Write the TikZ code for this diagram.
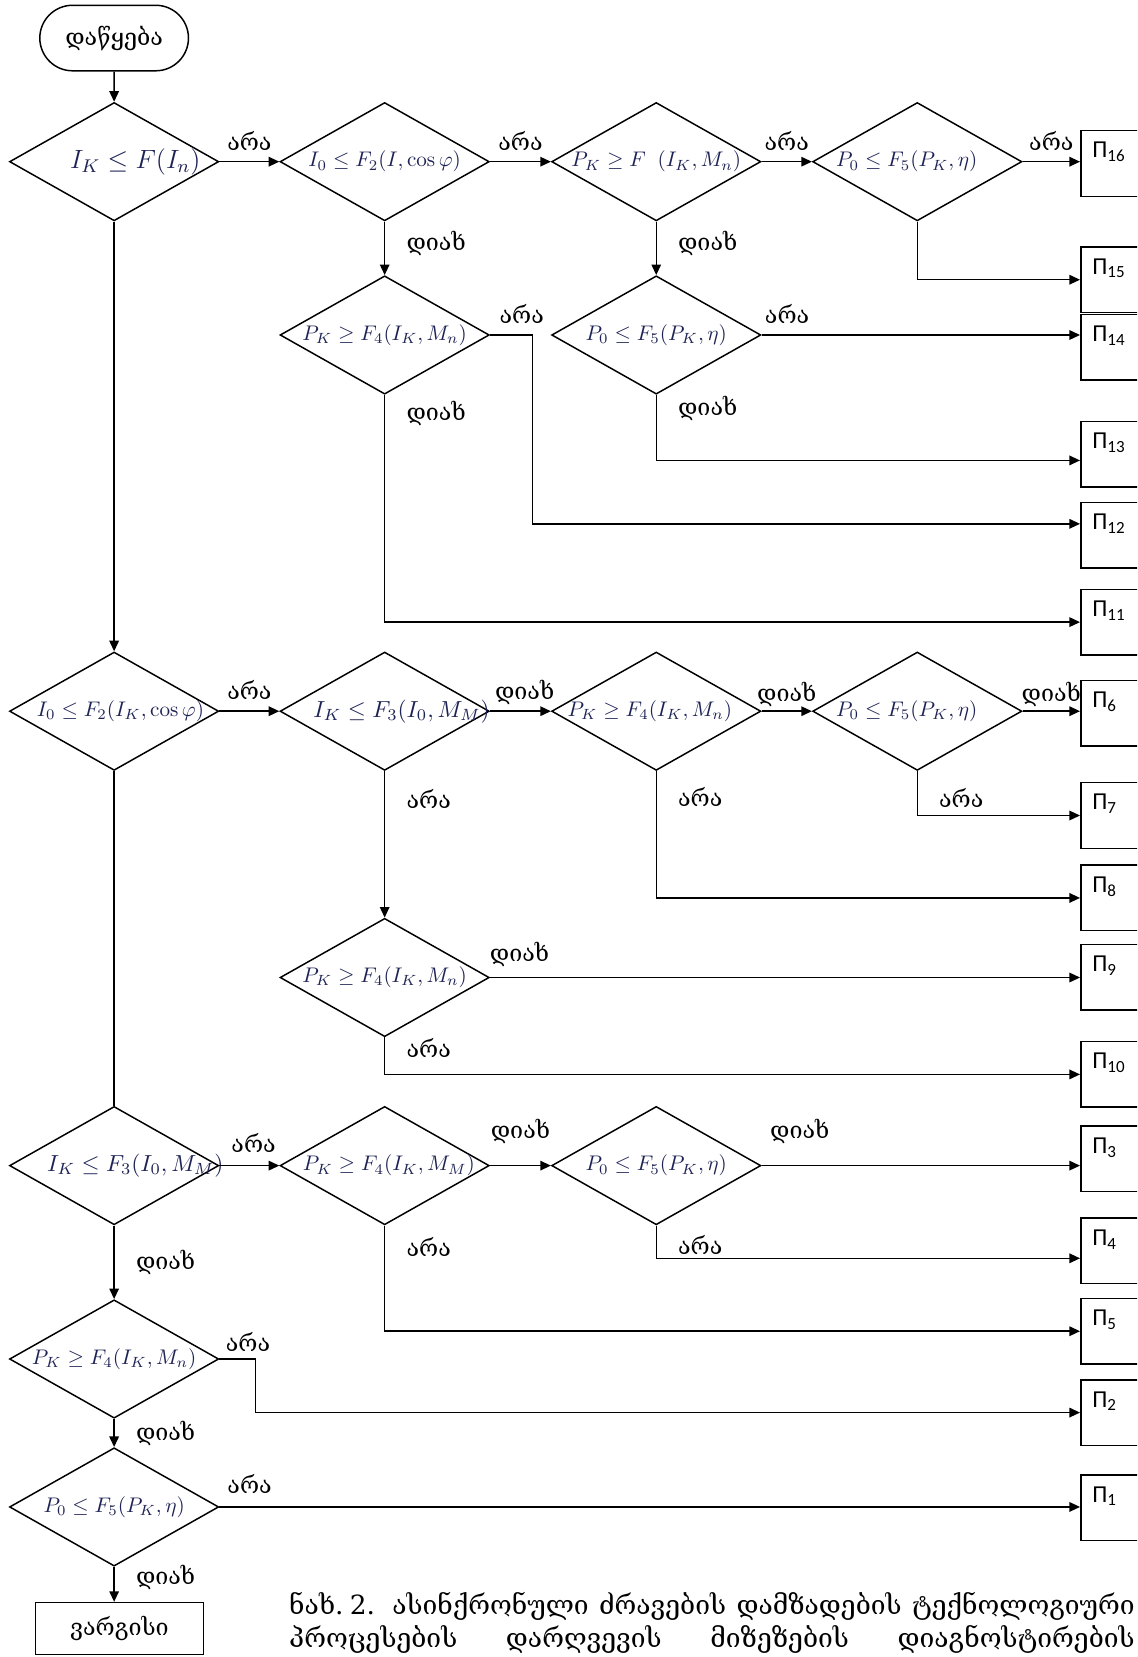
\RequirePackage{fix-cm}
\documentclass[tikz,border=0pt]{standalone}
\usepackage{amssymb}
\usepackage{amsmath}
\usepackage{fontspec}
\newfontfamily\geofont{DejaVu Serif}
\newfontfamily\pfont{Carlito}
\usepackage{tikz}
\usetikzlibrary{arrows.meta,shapes.geometric,shapes.misc}

\definecolor{formula}{RGB}{30,35,85}
\newcommand{\fbig}[2][12.5]{{\color{formula}\fontsize{#1}{15}\selectfont$#2$}}
\newcommand{\fsm}[1]{{\color{formula}\fontsize{10}{12}\selectfont$#1$}}
\newcommand{\pn}[1]{\pfont\fontsize{11.5}{13}\selectfont П\textsubscript{#1}}

\begin{document}
\begin{tikzpicture}[
  x=0.5pt, y=-0.5pt,
  every node/.style={font=\geofont\fontsize{11}{13}\selectfont},
  cond/.style={draw, diamond, minimum width=99pt, minimum height=56pt, inner sep=0pt},
  fault/.style={draw, anchor=north west, minimum width=36pt, minimum height=31pt, inner sep=0pt},
  pnum/.style={anchor=north west, inner sep=0pt, xshift=5.5pt, yshift=-5.5pt},
  startstop/.style={draw, rounded rectangle, minimum width=77pt, minimum height=31pt},
  finalbox/.style={draw, minimum width=79.5pt, minimum height=24.5pt, inner sep=0pt},
  ans/.style={inner sep=1pt},
  line width=0.7pt, >={Triangle[length=5pt,width=4.5pt]}
]
\useasboundingbox (0,0) rectangle (1076,1568);
\clip (0,0) rectangle (1076,1568);

\node[startstop] (start) at (108,36) {დაწყება};

% conditions
\node[cond, label={[xshift=10pt]center:\fbig{I_K \le F(I_n)}}] (d1) at (108,153) {};
\node[cond, label={center:\fsm{I_0 \le F_2(I,\cos\varphi)}}] (d2) at (364,153) {};
\node[cond, label={center:\fsm{P_K \ge F\;\;(I_K,M_n)}}] (d3) at (621,153) {};
\node[cond, label={[xshift=-5pt]center:\fsm{P_0 \le F_5(P_K,\eta)}}] (d4) at (868,153) {};
\node[cond, label={center:\fsm{P_K \ge F_4(I_K,M_n)}}] (d5) at (364,317) {};
\node[cond, label={center:\fsm{P_0 \le F_5(P_K,\eta)}}] (d6) at (621,317) {};
\node[cond, label={[xshift=3pt]center:\fsm{I_0 \le F_2(I_K,\cos\varphi)}}] (d7) at (108,673) {};
\node[cond, label={[xshift=8pt]center:\fbig[11]{I_K \le F_3(I_0,M_M)}}] (d8) at (364,673) {};
\node[cond, label={[xshift=-3pt]center:\fsm{P_K \ge F_4(I_K,M_n)}}] (d9) at (621,673) {};
\node[cond, label={[xshift=-5pt]center:\fsm{P_0 \le F_5(P_K,\eta)}}] (d10) at (868,673) {};
\node[cond, label={center:\fsm{P_K \ge F_4(I_K,M_n)}}] (d11) at (364,925) {};
\node[cond, label={[xshift=10pt]center:\fbig[11]{I_K \le F_3(I_0,M_M)}}] (d12) at (108,1103) {};
\node[cond, label={[xshift=2pt]center:\fsm{P_K \ge F_4(I_K,M_M)}}] (d13) at (364,1103) {};
\node[cond, label={center:\fsm{P_0 \le F_5(P_K,\eta)}}] (d14) at (621,1103) {};
\node[cond, label={center:\fsm{P_K \ge F_4(I_K,M_n)}}] (d15) at (108,1286) {};
\node[cond, label={center:\fsm{P_0 \le F_5(P_K,\eta)}}] (d16) at (108,1426) {};

\node[finalbox] (ok) at (113,1541) {ვარგისი};

% faults
\node[fault, label={[pnum]north west:\pn{16}}] (p16) at (1022,123) {};
\node[fault, label={[pnum]north west:\pn{15}}] (p15) at (1022,233) {};
\node[fault, label={[pnum]north west:\pn{14}}] (p14) at (1022,297) {};
\node[fault, label={[pnum]north west:\pn{13}}] (p13) at (1022,398) {};
\node[fault, label={[pnum]north west:\pn{12}}] (p12) at (1022,475) {};
\node[fault, label={[pnum]north west:\pn{11}}] (p11) at (1022,557) {};
\node[fault, label={[pnum]north west:\pn{6}}] (p6) at (1022,643) {};
\node[fault, label={[pnum]north west:\pn{7}}] (p7) at (1022,740) {};
\node[fault, label={[pnum]north west:\pn{8}}] (p8) at (1022,818) {};
\node[fault, label={[pnum]north west:\pn{9}}] (p9) at (1022,893) {};
\node[fault, label={[pnum]north west:\pn{10}}] (p10) at (1022,985) {};
\node[fault, label={[pnum]north west:\pn{3}}] (p3) at (1022,1065) {};
\node[fault, label={[pnum]north west:\pn{4}}] (p4) at (1022,1152) {};
\node[fault, label={[pnum]north west:\pn{5}}] (p5) at (1022,1228) {};
\node[fault, label={[pnum]north west:\pn{2}}] (p2) at (1022,1305) {};
\node[fault, label={[pnum]north west:\pn{1}}] (p1) at (1022,1395) {};

% connectors
\draw[->] (start) -- (d1);
\draw[->] (d1) -- node[ans, above=4pt] (t1) {არა} (d2);
\draw[->] (d2) -- node[ans, above=4pt] (t2) {არა} (d3);
\draw[->] (d3) -- node[ans, above=4pt] (t3) {არა} (d4);
\draw[->] (d4.east) -- node[ans, above=4pt] (t4) {არა} (d4.east -| p16.west);
\draw[->] (d2) -- node[ans, pos=0.4, right=9pt] (t5) {დიახ} (d5);
\draw[->] (d3) -- node[ans, pos=0.4, right=9pt] (t6) {დიახ} (d6);
\draw[->] (d4.south) |- (p15.west);
\draw[->] (d5.east) -- node[ans, above=4pt, xshift=5pt] (t7) {არა} ++(40,0) |- ([yshift=5.5pt]p12.west);
\draw[->] (d6.east) -- node[ans, pos=0.08, above=4pt] (t8) {არა} (d6.east -| p14.west);
\draw[->] (d5.south) |- node[ans, pos=0.04, right=9pt] (t9) {დიახ} (p11.west);
\draw[->] (d6.south) |- node[ans, pos=0.1, right=9pt] (t10) {დიახ} ([yshift=-3pt]p13.west);
\draw[->] (d1) -- (d7);

\draw[->] (d7) -- node[ans, above=4pt] (t11) {არა} (d8);
\draw[->] (d8) -- node[ans, above=2pt, xshift=2pt] (t12) {დიახ} (d9);
\draw[->] (d9) -- node[ans, above=1pt] (t13) {დიახ} (d10);
\draw[->] (d10.east) -- node[ans, above=1pt] (t14) {დიახ} (d10.east -| p6.west);
\draw[->] (d10.south) |- node[ans, pos=0.3, right=9pt] (t15) {არა} (p7.west);
\draw[->] (d9.south) |- node[ans, pos=0.1, right=9pt] (t16) {არა} (p8.west);
\draw[->] (d8) -- node[ans, pos=0.19, right=9pt] (t17) {არა} (d11);
\draw[->] (d11.east) -- node[ans, pos=0.05, above=4pt] (t18) {დიახ} (d11.east -| p9.west);
\draw[->] (d11.south) |- node[ans, pos=0.14, right=9pt] (t19) {არა} (p10.west);
\draw (d7) -- (d12);

\draw[->] (d12) -- node[ans, above=5pt, xshift=2pt] (t20) {არა} (d13);
\draw[->] (d13) -- node[ans, above=9pt] (t21) {დიახ} (d14);
\draw[->] (d14.east) -- node[ans, pos=0.12, above=9pt] (t22) {დიახ} (d14.east -| p3.west);
\draw[->] (d14.south) |- node[ans, pos=0.3, right=9pt] (t23) {არა} ([yshift=-3.5pt]p4.west);
\draw[->] (d13.south) |- node[ans, pos=0.1, right=9pt] (t24) {არა} (p5.west);
\draw[->] (d12) -- node[ans, right=9pt] (t25) {დიახ} (d15);
\draw[->] (d15.east) -- node[ans, above=2pt, xshift=5pt] (t26) {არა} ++(34,0) |- (p2.west);
\draw[->] (d15) -- node[ans, right=9pt] (t27) {დიახ} (d16);
\draw[->] (d16.east) -- node[ans, pos=0.035, above=5pt] (t28) {არა} (d16.east -| p1.west);
\draw[->] (d16.south) -- node[ans, pos=0.3, right=9pt] (t29) {დიახ} (d16.south |- ok.north);

% caption
\node[anchor=west, inner sep=0pt, font=\geofont\fontsize{12.5}{14}\selectfont] (cap1) at (273,1520)
  {\makebox[400pt][s]{ნახ.\kern3pt2. ასინქრონული ძრავების დამზადების ტექნოლოგიური}};
\node[anchor=west, inner sep=0pt, font=\geofont\fontsize{12.5}{14}\selectfont] (cap2) at (273,1551)
  {\makebox[400pt][s]{პროცესების დარღვევის მიზეზების დიაგნოსტირების}};
\end{tikzpicture}
\end{document}
